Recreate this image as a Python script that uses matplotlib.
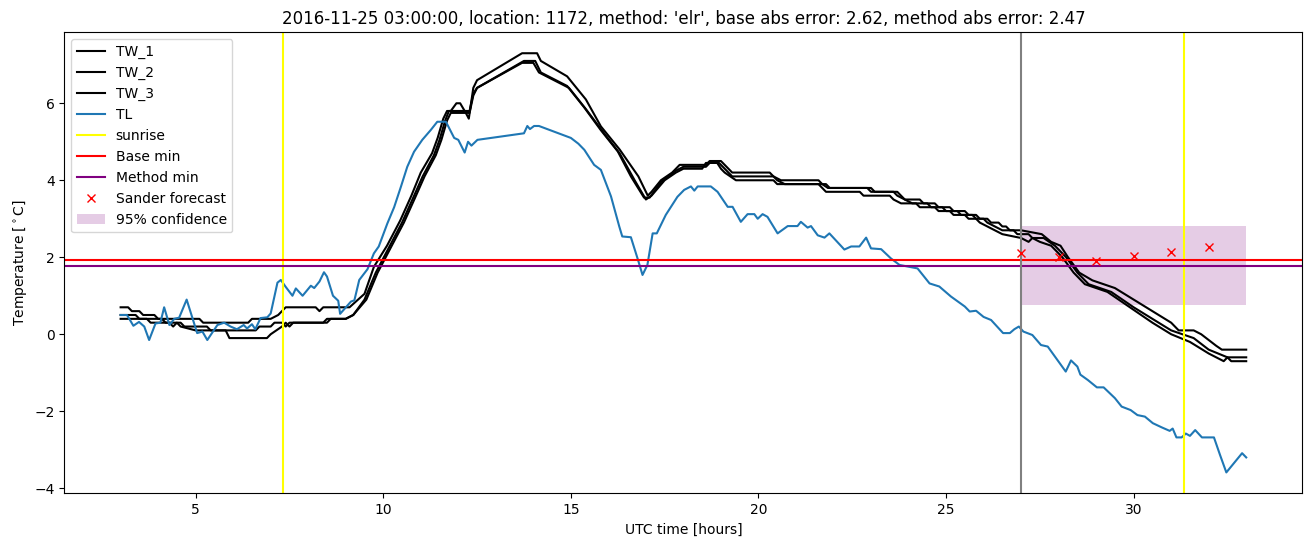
import numpy as np
from matplotlib import pyplot as plt

# Air temperature TL (hours, degC)
tl_t = [3.0, 3.17, 3.34, 3.49, 3.63, 3.76, 3.93, 4.06, 4.16, 4.3, 4.43, 4.56, 4.76, 4.91,
        5.04, 5.18, 5.31, 5.4, 5.58, 5.76, 5.93, 6.1, 6.28, 6.37, 6.5, 6.59, 6.73, 6.91,
        7.0, 7.18, 7.27, 7.4, 7.58, 7.67, 7.85, 8.07, 8.16, 8.3, 8.42, 8.5, 8.66, 8.8,
        8.85, 8.96, 9.14, 9.23, 9.36, 9.58, 9.75, 9.88, 10.11, 10.29, 10.47, 10.64, 10.82,
        11.04, 11.27, 11.44, 11.67, 11.89, 12.0, 12.17, 12.26, 12.35, 12.51, 13.75, 13.84,
        13.91, 14.02, 14.15, 15.0, 15.2, 15.36, 15.62, 15.8, 16.07, 16.29, 16.37, 16.6,
        16.79, 16.91, 17.04, 17.18, 17.29, 17.53, 17.84, 18.02, 18.2, 18.29, 18.38, 18.73,
        18.91, 19.18, 19.31, 19.53, 19.71, 19.89, 19.98, 20.11, 20.24, 20.51, 20.78, 21.04,
        21.13, 21.31, 21.4, 21.58, 21.76, 21.89, 22.07, 22.29, 22.47, 22.69, 22.87, 23.0,
        23.27, 23.53, 23.76, 24.24, 24.56, 24.82, 25.13, 25.5, 25.63, 25.8, 26.0, 26.2,
        26.52, 26.7, 26.82, 26.94, 27.06, 27.3, 27.53, 27.71, 28.0, 28.19, 28.33, 28.5,
        28.58, 28.78, 29.02, 29.2, 29.5, 29.68, 29.92, 30.1, 30.3, 30.51, 30.75, 30.96,
        31.04, 31.14, 31.28, 31.39, 31.5, 31.64, 31.82, 32.14, 32.3, 32.47, 32.89, 33.0]
tl_v = [0.5, 0.5, 0.22, 0.32, 0.2, -0.15, 0.28, 0.3, 0.7, 0.24, 0.4, 0.43, 0.9, 0.43,
        0.03, 0.07, -0.15, -0.02, 0.24, 0.3, 0.2, 0.13, 0.24, 0.15, 0.26, 0.13, 0.42, 0.44,
        0.54, 1.34, 1.41, 1.23, 1.0, 1.19, 1.0, 1.26, 1.2, 1.37, 1.61, 1.5, 1.0, 0.87,
        0.53, 0.65, 0.85, 0.88, 1.41, 1.69, 2.1, 2.28, 2.88, 3.3, 3.83, 4.35, 4.74,
        5.05, 5.31, 5.52, 5.52, 5.1, 5.05, 4.72, 5.0, 4.9, 5.05, 5.22, 5.41,
        5.33, 5.41, 5.41, 5.1, 4.95, 4.79, 4.4, 4.27, 3.58, 2.8, 2.54, 2.52,
        1.93, 1.54, 1.8, 2.62, 2.62, 3.1, 3.57, 3.75, 3.84, 3.73, 3.84, 3.84,
        3.7, 3.31, 3.31, 2.92, 3.12, 3.12, 3.0, 3.12, 3.05, 2.62, 2.81, 2.81,
        2.92, 2.77, 2.81, 2.57, 2.51, 2.62, 2.43, 2.2, 2.28, 2.28, 2.51, 2.23,
        2.21, 1.97, 1.8, 1.71, 1.32, 1.24, 0.98, 0.72, 0.59, 0.61, 0.45, 0.37,
        0.03, 0.03, 0.13, 0.2, 0.07, -0.02, -0.28, -0.32, -0.71, -0.97, -0.68, -0.84,
        -1.05, -1.19, -1.38, -1.38, -1.66, -1.88, -1.97, -2.1, -2.14, -2.31, -2.42, -2.51,
        -2.45, -2.68, -2.68, -2.58, -2.64, -2.49, -2.68, -2.68, -3.13, -3.59, -3.09, -3.2]

# Road temperatures TW_1..3 (hours, degC)
tw1_t = [3.0, 3.2, 3.3, 3.5, 3.6, 3.9, 4.0, 5.1, 5.2, 6.4, 6.5, 7.0, 7.2, 7.4, 8.2, 8.3, 8.4,
         9.1, 9.5, 9.75, 10.1, 10.45, 10.75, 11.0, 11.3, 11.45, 11.6, 11.7, 11.8, 11.95, 12.05,
         12.2, 12.28, 12.4, 12.5, 13.7, 14.1, 14.2, 14.9, 15.4, 15.8, 16.3, 16.8, 17.05, 17.15,
         17.4, 17.7, 17.9, 18.6, 18.7, 19.0, 19.1, 19.3, 20.3, 20.4, 20.6, 21.6, 21.7, 21.85,
         23.0, 23.1, 23.7, 23.8, 23.9, 24.3, 24.4, 24.7, 24.8, 25.1, 25.2, 25.5, 25.6, 25.8,
         25.9, 26.1, 26.2, 26.4, 26.5, 26.6, 26.7, 27.0, 27.55, 27.8, 28.05, 28.25, 28.55,
         28.9, 29.5, 30.0, 30.5, 31.0, 31.2, 31.6, 31.8, 32.2, 32.35, 33.0]
tw1_v = [0.7, 0.7, 0.6, 0.6, 0.5, 0.5, 0.4, 0.4, 0.3, 0.3, 0.4, 0.4, 0.5, 0.7, 0.7, 0.6, 0.7,
         0.7, 1.05, 1.75, 2.3, 2.95, 3.6, 4.2, 4.7, 5.1, 5.6, 5.8, 5.8, 6.0, 6.0,
         5.75, 5.6, 6.4, 6.6, 7.3, 7.3, 7.1, 6.7, 6.1, 5.4, 4.8, 4.1, 3.6, 3.7,
         4.0, 4.2, 4.4, 4.4, 4.5, 4.5, 4.4, 4.2, 4.2, 4.1, 4.0, 4.0, 3.9, 3.8,
         3.8, 3.7, 3.7, 3.6, 3.5, 3.5, 3.4, 3.4, 3.3, 3.3, 3.2, 3.2, 3.1, 3.1,
         3.0, 3.0, 2.9, 2.9, 2.8, 2.8, 2.7, 2.7, 2.6, 2.4, 2.3, 2.0, 1.6,
         1.4, 1.2, 0.9, 0.6, 0.3, 0.1, 0.1, 0.0, -0.3, -0.4, -0.4]

tw2_t = [3.0, 3.4, 3.5, 4.1, 4.2, 4.6, 4.7, 5.3, 5.4, 6.6, 6.7, 7.0, 7.1, 7.3, 7.4, 7.5, 8.4,
         8.5, 9.0, 9.2, 9.5, 9.8, 10.15, 10.5, 10.8, 11.05, 11.35, 11.5, 11.65, 11.75, 12.2,
         12.3, 12.4, 12.5, 13.75, 14.05, 14.2, 14.9, 15.35, 15.8, 16.25, 16.6, 16.95, 17.1,
         17.4, 17.8, 18.0, 18.6, 18.7, 18.95, 19.1, 19.3, 20.4, 20.5, 20.7, 21.8, 21.9, 22.9,
         23.0, 23.6, 23.7, 23.9, 24.1, 24.5, 24.6, 24.9, 25.0, 25.3, 25.4, 25.7, 25.8, 26.0,
         26.1, 26.3, 26.5, 26.8, 26.9, 27.2, 27.3, 27.6, 27.9, 28.2, 28.5, 28.8, 29.4, 30.0,
         30.5, 31.0, 31.3, 31.6, 32.0, 32.5, 33.0]
tw2_v = [0.5, 0.5, 0.4, 0.4, 0.3, 0.3, 0.2, 0.2, 0.1, 0.1, 0.2, 0.2, 0.3, 0.3, 0.2, 0.3, 0.3,
         0.4, 0.4, 0.5, 0.9, 1.6, 2.25, 2.9, 3.55, 4.1, 4.65, 5.05, 5.55, 5.8, 5.8,
         5.8, 6.25, 6.4, 7.1, 7.1, 6.8, 6.45, 5.9, 5.3, 4.75, 4.1, 3.55, 3.55,
         3.95, 4.25, 4.35, 4.35, 4.45, 4.45, 4.3, 4.1, 4.1, 4.0, 3.9, 3.9, 3.8, 3.8,
         3.7, 3.7, 3.6, 3.5, 3.4, 3.4, 3.3, 3.3, 3.2, 3.2, 3.1, 3.1, 3.0, 3.0,
         2.9, 2.8, 2.7, 2.7, 2.6, 2.6, 2.5, 2.5, 2.3, 2.0, 1.6, 1.3, 1.1, 0.7,
         0.4, 0.1, 0.0, -0.1, -0.4, -0.6, -0.6]

tw3_t = [3.0, 3.7, 3.8, 4.3, 4.4, 4.5, 4.6, 5.0, 5.8, 5.9, 6.9, 7.0, 7.15, 7.3, 7.4, 7.5, 7.6,
         8.5, 8.6, 9.0, 9.2, 9.55, 9.85, 10.2, 10.55, 10.85, 11.1, 11.4, 11.55, 11.7, 11.8,
         12.2, 12.3, 12.4, 12.5, 13.7, 14.0, 14.15, 14.95, 15.4, 15.9, 16.3, 16.7, 17.0, 17.15,
         17.5, 17.8, 18.0, 18.5, 18.6, 18.9, 19.0, 19.1, 19.4, 20.4, 20.5, 21.6, 21.7, 21.8,
         22.7, 22.8, 23.5, 23.6, 23.8, 24.2, 24.3, 24.7, 24.8, 25.1, 25.2, 25.5, 25.6, 25.8,
         25.9, 26.1, 26.3, 26.5, 27.0, 27.2, 27.3, 27.5, 27.8, 28.1, 28.4, 28.7, 29.3, 29.9,
         30.5, 31.0, 31.5, 32.0, 32.4, 32.5, 32.6, 33.0]
tw3_v = [0.4, 0.4, 0.3, 0.3, 0.2, 0.3, 0.2, 0.1, 0.1, -0.1, -0.1, 0.0, 0.1, 0.2, 0.3, 0.2, 0.3,
         0.3, 0.4, 0.4, 0.5, 0.9, 1.6, 2.25, 2.9, 3.55, 4.1, 4.65, 5.05, 5.55, 5.75,
         5.75, 5.75, 6.2, 6.4, 7.05, 7.05, 6.8, 6.4, 5.85, 5.2, 4.7, 4.0, 3.5, 3.6,
         4.0, 4.2, 4.3, 4.3, 4.45, 4.45, 4.3, 4.2, 4.0, 4.0, 3.9, 3.9, 3.8, 3.7,
         3.7, 3.6, 3.6, 3.5, 3.4, 3.4, 3.3, 3.3, 3.2, 3.2, 3.1, 3.1, 3.0, 3.0,
         2.9, 2.8, 2.7, 2.6, 2.5, 2.4, 2.5, 2.4, 2.3, 2.0, 1.6, 1.3, 1.1, 0.7,
         0.3, 0.0, -0.2, -0.5, -0.7, -0.6, -0.7, -0.7]

sunrise = [7.32, 31.35]
forecast_time = 27
base_min = 1.93
method_min = 1.78
conf_low, conf_high = 0.76, 2.81
sander_t = [27, 28, 29, 30, 31, 32]
sander_v = [2.1, 2.0, 1.91, 2.03, 2.13, 2.26]

fig, ax = plt.subplots(figsize=(13.13, 5.47), dpi=100)
fig.subplots_adjust(left=0.049, right=0.992, bottom=0.098, top=0.941)

ax.plot(tw1_t, tw1_v, color='black', label='TW_1')
ax.plot(tw2_t, tw2_v, color='black', label='TW_2')
ax.plot(tw3_t, tw3_v, color='black', label='TW_3')
ax.plot(tl_t, tl_v, label='TL')

for i, s in enumerate(sunrise):
    ax.axvline(s, color='yellow', label='sunrise' if i == 0 else None)
ax.axhline(base_min, color='red', label='Base min')
ax.axhline(method_min, color='purple', label='Method min')
ax.axvline(forecast_time, color='grey')
ax.plot(sander_t, sander_v, 'rx', label='Sander forecast')
ax.fill_between([forecast_time, 33], conf_low, conf_high, color='purple', alpha=0.2,
                linewidth=0, label='95% confidence')

ax.set_title("2016-11-25 03:00:00, location: 1172, method: 'elr', "
             "base abs error: 2.62, method abs error: 2.47")
ax.set_xlabel('UTC time [hours]')
ax.set_ylabel(r'Temperature [$^\circ$C]')
ax.legend(loc='upper left')

plt.savefig('out.png')
